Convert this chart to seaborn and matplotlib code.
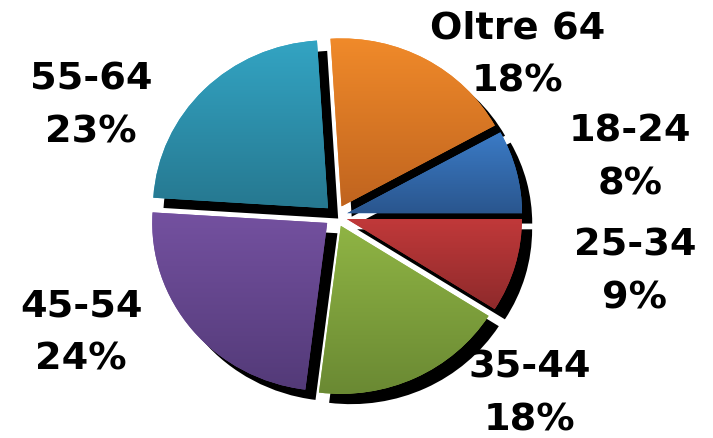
import numpy as np
import matplotlib
matplotlib.use("Agg")
import matplotlib.pyplot as plt
import matplotlib.colors as mcolors
import seaborn as sns

# ---- data ----
categories = ["18-24", "Oltre 64", "55-64", "45-54", "35-44", "25-34"]
values = [8, 18, 23, 24, 18, 9]
top_colors = ["#3b7bc6", "#f08a2a", "#33a4c3", "#7451a0", "#8fb444", "#c1393a"]
bottom_colors = ["#2a568e", "#c0641f", "#267890", "#533a78", "#6a8933", "#8e2a2b"]

# label centres in figure pixels (layout)
label_pos_px = [(630, 158), (518, 55), (91, 106), (81, 333), (530, 394), (635, 272)]

W, H = 713, 438
sns.set_style("white")
plt.rcParams["font.family"] = ["DejaVu Sans"]

fig = plt.figure(figsize=(W / 100, H / 100), dpi=100)
ax = fig.add_axes([0, 0, 1, 1])

wedges, _ = ax.pie(
    values,
    startangle=0,
    counterclock=True,
    explode=[0.065] * len(values),
    colors=top_colors,
    wedgeprops=dict(linewidth=0),
    shadow={"ox": 0.042, "oy": -0.044, "shade": 1.0, "alpha": 1.0},
)

# vertical gradient fill clipped to each wedge
for w, ct, cb in zip(wedges, top_colors, bottom_colors):
    ext = w.get_path().get_extents()
    t = np.linspace(0, 1, 256)[:, None]
    c1 = np.array(mcolors.to_rgb(ct))
    c2 = np.array(mcolors.to_rgb(cb))
    img = (c1[None, :] * (1 - t) + c2[None, :] * t)[:, None, :]
    im = ax.imshow(img, extent=(ext.x0, ext.x1, ext.y0, ext.y1), origin="upper",
                   aspect="auto", interpolation="bilinear", zorder=1.5)
    im.set_clip_path(w)

# axis scaling: pie centre at (336, 216) px, radius 175 px horiz / 168 px vert
cx, cy, rx, ry = 336, 216, 175, 168
ax.set_xlim(-cx / rx, (W - cx) / rx)
ax.set_ylim(-(H - cy) / ry, cy / ry)
ax.set_aspect("auto")
ax.axis("off")

for cat, val, (px, py) in zip(categories, values, label_pos_px):
    fig.text(px / W, 1 - py / H, f"{cat}\n{val}%", ha="center", va="center",
             multialignment="center", fontsize=27.5, fontweight="bold",
             color="black", linespacing=1.58)

fig.savefig("out.png", dpi=100)
